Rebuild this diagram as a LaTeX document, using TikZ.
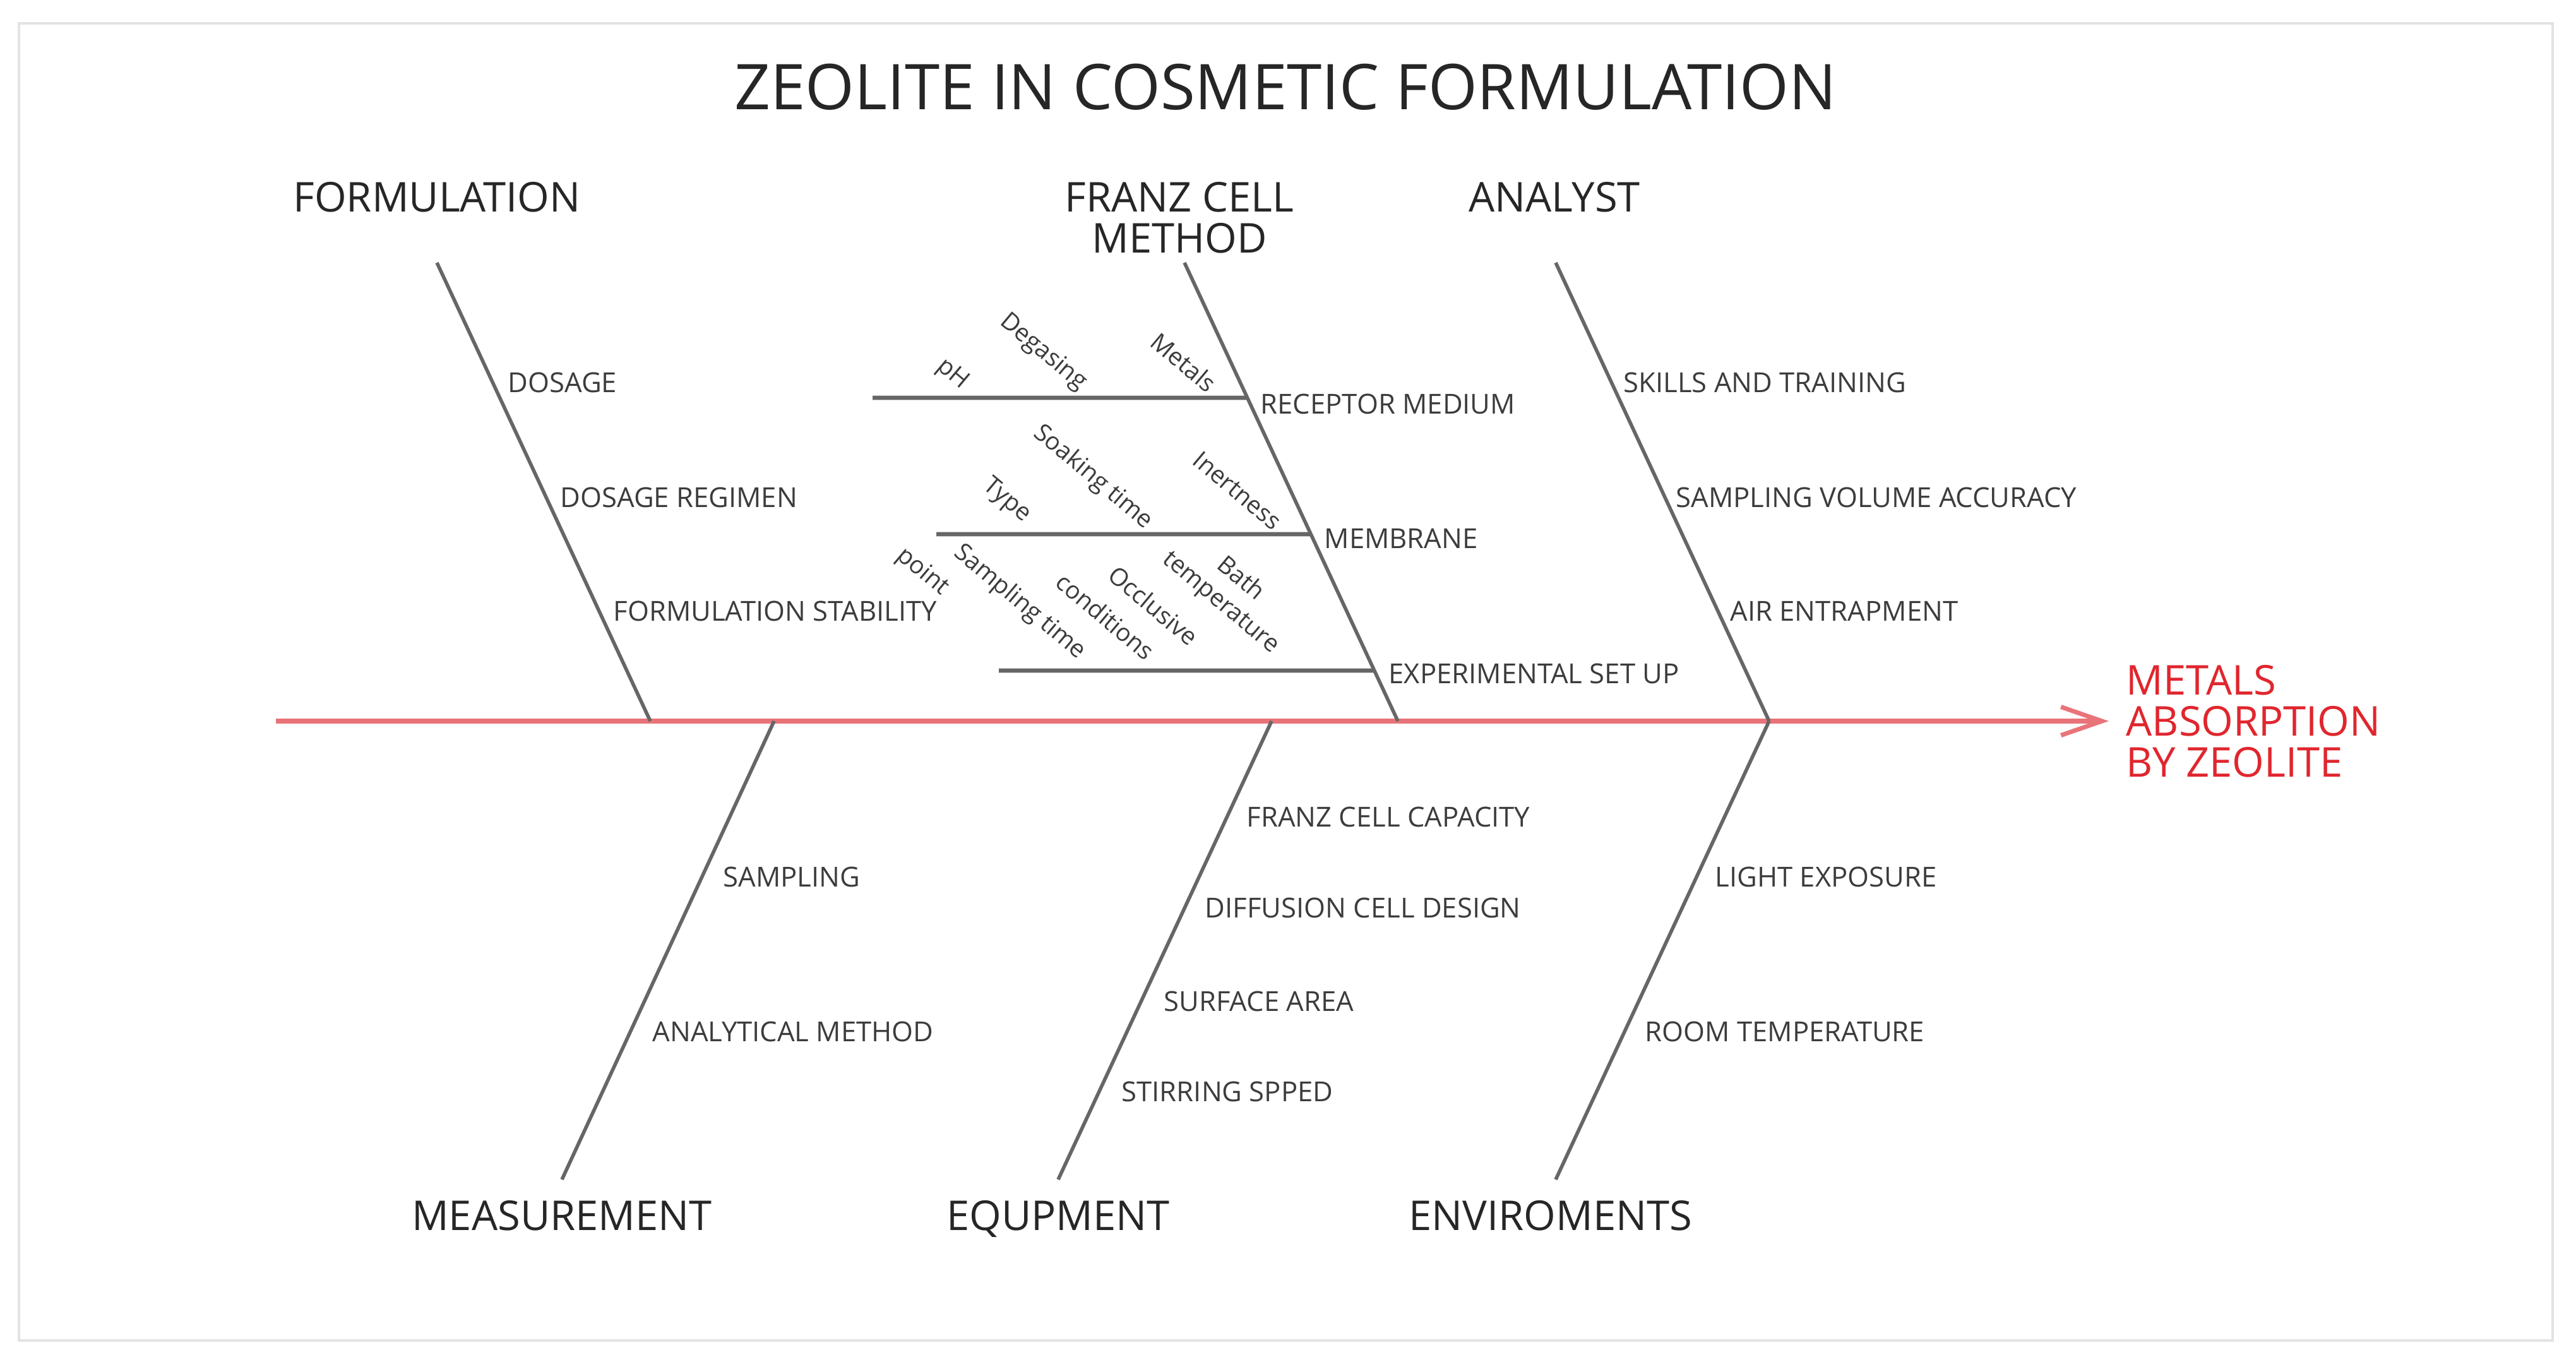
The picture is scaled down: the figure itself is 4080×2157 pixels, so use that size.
\documentclass[tikz,border=0pt]{standalone}
\usepackage{fontspec}
\setmainfont{Open Sans}
\usetikzlibrary{arrows.meta,calc}
\definecolor{bonegray}{HTML}{666666}
\definecolor{txtgray}{HTML}{3C3C3C}
\definecolor{spinered}{HTML}{E8747A}
\definecolor{effectred}{HTML}{E0262E}
\definecolor{framegray}{HTML}{E3E3E3}
\begin{document}
\begin{tikzpicture}[x=0.01cm,y=-0.01cm,
  bone/.style={draw=bonegray, line width=1.6pt},
  subbone/.style={draw=bonegray, line width=1.9pt},
  spine/.style={draw=spinered, line width=2.4pt, -{Straight Barb[length=0.65cm,width=0.45cm,line width=2pt]}},
  cat/.style={font=\fontsize{18.5}{18.5}\selectfont, text=black!85, inner sep=0pt, align=center},
  catone/.style={font=\fontsize{18.5}{18.5}\selectfont, text=black!85, inner sep=0pt, text height=13.2pt, text depth=0pt},
  cause/.style={font=\fontsize{12.4}{14}\selectfont, text=txtgray, inner sep=0pt, anchor=west, text height=8.9pt, text depth=0pt},
  rot/.style={font=\fontsize{11}{13}\selectfont, text=txtgray, inner sep=0pt, rotate=-40},
]
\useasboundingbox (0,0) rectangle (4080,2157);
\draw[framegray, line width=1.2pt] (30,37) rectangle (4043,2123);

% title
\node[font=\fontsize{28.4}{30}\selectfont, text=black!85, inner sep=0pt, text height=20.3pt, text depth=0pt] (title) at (2036,138) {ZEOLITE IN COSMETIC FORMULATION};

% spine
\coordinate (tail) at (437,1142);
\coordinate (head) at (3340,1142);
\draw[spine] (tail) -- (head);
\node[cat, text=effectred, anchor=west, align=left] (effect) at (3367,1142) {METALS\\ABSORPTION\\BY ZEOLITE};

% upper bones
\coordinate (F1) at (692,416);  \coordinate (F0) at (1030,1142);
\coordinate (M1) at (1876,416); \coordinate (M0) at (2214,1142);
\coordinate (A1) at (2464,416); \coordinate (A0) at (2802,1142);
\draw[bone] (F1) -- (F0);
\draw[bone] (M1) -- (M0);
\draw[bone] (A1) -- (A0);

% lower bones
\coordinate (S0) at (1226,1142); \coordinate (S1) at (890,1868);
\coordinate (Q0) at (2014,1142); \coordinate (Q1) at (1676,1868);
\coordinate (E0) at (2802,1142); \coordinate (E1) at (2464,1868);
\draw[bone] (S0) -- (S1);
\draw[bone] (Q0) -- (Q1);
\draw[bone] (E0) -- (E1);

% category labels
\node[catone] (formulation) at (692,312) {FORMULATION};
\node[cat] (franz) at (1868,345) {FRANZ CELL\\METHOD};
\node[catone] (analyst) at (2462,312) {ANALYST};
\node[catone] (measurement) at (890,1925) {MEASUREMENT};
\node[catone] (equipment) at (1676,1925) {EQUPMENT};
\node[catone] (environments) at (2456,1925) {ENVIROMENTS};

% causes: formulation
\node[cause] (dosage) at (804,606) {DOSAGE};
\node[cause] (regimen) at (887,788) {DOSAGE REGIMEN};
\node[cause] (stability) at (971,968) {FORMULATION STABILITY};

% causes: franz cell method
\node[cause] (receptor) at (1996,640) {RECEPTOR MEDIUM};
\node[cause] (membrane) at (2097,853) {MEMBRANE};
\node[cause] (setup) at (2199,1067) {EXPERIMENTAL SET UP};

% sub bones
\coordinate (r0) at (1382,630);  \coordinate (r1) at ($(M1)!0.2948!(M0)$);
\coordinate (m0) at (1483,846);  \coordinate (m1) at ($(M1)!0.5923!(M0)$);
\coordinate (x0) at (1582,1062); \coordinate (x1) at ($(M1)!0.8898!(M0)$);
\draw[subbone] (r0) -- (r1);
\draw[subbone] (m0) -- (m1);
\draw[subbone] (x0) -- (x1);

% sub-causes (rotated)
\node[rot] (ph) at (1508,593) {pH};
\node[rot] (degas) at (1652,558) {Degasing};
\node[rot] (metals) at (1875,574) {Metals};
\node[rot] (soak) at (1731,756) {Soaking time};
\node[rot] (inert) at (1960,777) {Inertness};
\node[rot] (type) at (1594,793) {Type};
\node[rot] (bath) at (1967,914) {Bath};
\node[rot] (temp) at (1932,956) {temperature};
\node[rot] (occl) at (1827,959) {Occlusive};
\node[rot] (cond) at (1751,976) {conditions};
\node[rot] (samp) at (1615,954) {Sampling time};
\node[rot] (point) at (1461,906) {point};

% causes: analyst
\node[cause] (skills) at (2571,606) {SKILLS AND TRAINING};
\node[cause] (volume) at (2654,788) {SAMPLING VOLUME ACCURACY};
\node[cause] (air) at (2740,968) {AIR ENTRAPMENT};

% causes: measurement
\node[cause] (sampling) at (1145,1389) {SAMPLING};
\node[cause] (analytical) at (1033,1634) {ANALYTICAL METHOD};

% causes: equipment
\node[cause] (capacity) at (1974,1294) {FRANZ CELL CAPACITY};
\node[cause] (design) at (1908,1438) {DIFFUSION CELL DESIGN};
\node[cause] (surface) at (1843,1586) {SURFACE AREA};
\node[cause] (stirring) at (1776,1729) {STIRRING SPPED};

% causes: environments
\node[cause] (light) at (2716,1389) {LIGHT EXPOSURE};
\node[cause] (room) at (2605,1634) {ROOM TEMPERATURE};
\end{tikzpicture}
\end{document}
